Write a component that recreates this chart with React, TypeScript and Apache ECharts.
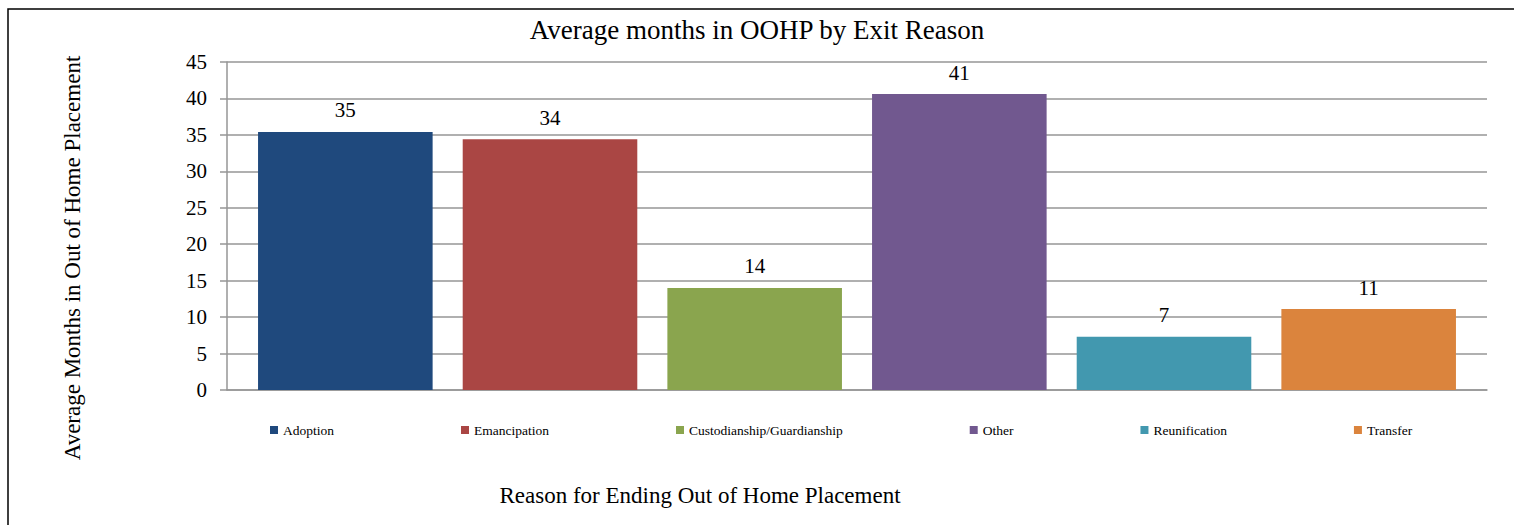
import React, { useEffect, useRef } from "react";
import * as echarts from "echarts";

const categories = ["Adoption", "Emancipation", "Custodianship/Guardianship", "Other", "Reunification", "Transfer"];
const values = [35.4, 34.4, 14.0, 40.6, 7.3, 11.1];
const colors = ["#1F497D", "#AA4644", "#8AA54E", "#71588F", "#4298AF", "#DB843D"];
const yTicks = { min: 0, max: 45, interval: 5 };

const FONT = "Liberation Serif";

export default function App() {
  const ref = useRef<HTMLDivElement>(null);
  useEffect(() => {
    if (!ref.current) return;
    const chart = echarts.init(ref.current, null, { renderer: "svg" });
    const series = categories.map((name, i) => ({
      name,
      type: "bar",
      xAxisIndex: 1,
      yAxisIndex: 1,
      barGap: "-100%",
      barCategoryGap: "14.7%",
      itemStyle: { color: colors[i] },
      label: {
        show: true,
        position: "top",
        distance: 11,
        color: "#000",
        fontFamily: FONT,
        fontSize: 21,
        formatter: (p: any) => String(Math.round(p.value)),
      },
      data: categories.map((_, j) => (j === i ? values[i] : "-")),
    }));
    chart.setOption({
      animation: false,
      backgroundColor: "#fff",
      textStyle: { fontFamily: FONT },
      title: {
        text: "Average months in OOHP by Exit Reason",
        left: "center",
        top: 11,
        textStyle: { fontFamily: FONT, fontSize: 27, fontWeight: "normal", color: "#000" },
      },
      legend: {
        left: 265,
        top: 418,
        icon: "rect",
        itemWidth: 8,
        itemHeight: 8,
        itemGap: 127,
        textStyle: { fontFamily: FONT, fontSize: 13.5, color: "#000" },
        data: categories,
      },
      graphic: [
        {
          type: "rect",
          shape: { x: 8, y: 9, width: 1700, height: 700 },
          style: { fill: "none", stroke: "#000", lineWidth: 1.5 },
          silent: true,
        },
      ],
      grid: [
        { left: 227, right: 27, top: 62, bottom: 135 },
        { left: 243, right: 43, top: 62, bottom: 135 },
      ],
      xAxis: [
        {
          gridIndex: 0,
          type: "category",
          data: categories,
          axisLine: { show: true, lineStyle: { color: "#969696", width: 1.5 } },
          axisTick: { show: false },
          axisLabel: { show: false },
          name: "Reason for Ending Out of Home Placement",
          nameLocation: "middle",
          nameGap: 94,
          nameTextStyle: {
            fontFamily: FONT,
            fontSize: 23,
            color: "#000",
            padding: [0, 314, 0, 0],
            verticalAlign: "top",
          },
        },
        {
          gridIndex: 1,
          type: "category",
          data: categories,
          axisLine: { show: false },
          axisTick: { show: false },
          axisLabel: { show: false },
        },
      ],
      yAxis: [
        {
          gridIndex: 0,
          type: "value",
          min: yTicks.min,
          max: yTicks.max,
          interval: yTicks.interval,
          axisLine: { show: true, lineStyle: { color: "#969696", width: 1.5 } },
          axisTick: { show: true, length: 7, lineStyle: { color: "#969696", width: 1.5 } },
          axisLabel: { margin: 20, fontFamily: FONT, fontSize: 21, color: "#000" },
          splitLine: { show: true, lineStyle: { color: "#969696", width: 1.5 } },
          name: "Average Months in Out of Home Placement",
          nameLocation: "middle",
          nameGap: 143,
          nameTextStyle: { fontFamily: FONT, fontSize: 23, color: "#000", padding: [0, 64, 0, 0] },
        },
        {
          gridIndex: 1,
          type: "value",
          min: yTicks.min,
          max: yTicks.max,
          interval: yTicks.interval,
          show: false,
        },
      ],
      series,
    });
    return () => chart.dispose();
  }, []);
  return (
    <div
      ref={ref}
      style={{ position: "fixed", left: 0, top: 0, width: 1514, height: 525 }}
    />
  );
}
